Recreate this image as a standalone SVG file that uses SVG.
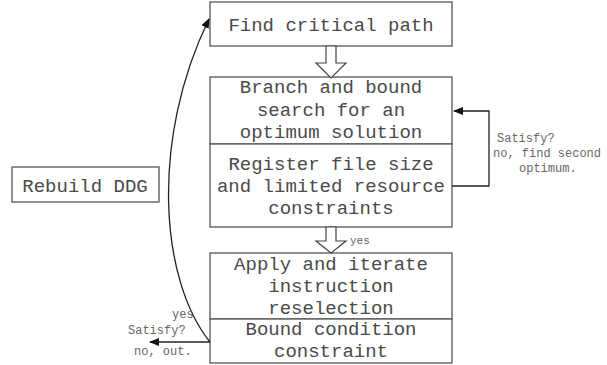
<svg xmlns="http://www.w3.org/2000/svg" width="607" height="365" viewBox="0 0 607 365">
<style>
.box{fill:#fff;stroke:#555;stroke-width:1.3}
.t{font-family:"Liberation Mono","Courier New",monospace;font-size:19px;fill:#4a4a4a;text-anchor:middle}
.s{font-family:"Liberation Mono","Courier New",monospace;font-size:12px;fill:#666}
.ln{fill:none;stroke:#222;stroke-width:1.3}
.hollow{fill:#fff;stroke:#444;stroke-width:1.2}
</style>
<defs>
<marker id="ah" markerWidth="10" markerHeight="8" refX="9" refY="4" orient="auto" markerUnits="userSpaceOnUse">
<path d="M0,0 L10,4 L0,8 z" fill="#111"/>
</marker>
</defs>
<g id="find">
<rect class="box" x="210" y="2" width="242" height="44"/>
<text class="t" x="331" y="31">Find critical path</text>
</g>
<g id="branch">
<rect class="box" x="210" y="77" width="242" height="67"/>
<text class="t" x="331" y="93">Branch and bound</text>
<text class="t" x="331" y="116">search for an</text>
<text class="t" x="331" y="138">optimum solution</text>
</g>
<g id="register">
<rect class="box" x="210" y="144" width="242" height="83"/>
<text class="t" x="331" y="170">Register file size</text>
<text class="t" x="331" y="192">and limited resource</text>
<text class="t" x="331" y="214">constraints</text>
</g>
<g id="apply">
<rect class="box" x="210" y="253" width="242" height="66"/>
<text class="t" x="331" y="270">Apply and iterate</text>
<text class="t" x="331" y="292">instruction</text>
<text class="t" x="331" y="314">reselection</text>
</g>
<g id="boundcond">
<rect class="box" x="210" y="319" width="242" height="44"/>
<text class="t" x="331" y="335">Bound condition</text>
<text class="t" x="331" y="357">constraint</text>
</g>
<g id="rebuild">
<rect class="box" x="12" y="167" width="147" height="35"/>
<text class="t" x="85" y="192">Rebuild DDG</text>
</g>
<g id="connectors">
<polygon class="hollow" points="326,46 336,46 336,63 346,63 331,78 316,63 326,63"/>
<polygon class="hollow" points="326,227 336,227 336,241 346,241 331,253 316,241 326,241"/>
<text class="s" x="350" y="244" style="font-size:11px">yes</text>
<path class="ln" d="M452,186 H489 V111 H454" marker-end="url(#ah)"/>
<text class="s" x="497" y="142">Satisfy?</text>
<text class="s" x="493" y="157">no, find second</text>
<text class="s" x="519" y="172">optimum.</text>
<path class="ln" d="M210,342 C160,280 150,140 209,19" marker-end="url(#ah)"/>
<path class="ln" d="M210,342 H150" marker-end="url(#ah)"/>
<text class="s" x="172" y="318">yes</text>
<text class="s" x="128" y="334">Satisfy?</text>
<text class="s" x="134" y="355">no, out.</text>
</g>
</svg>
